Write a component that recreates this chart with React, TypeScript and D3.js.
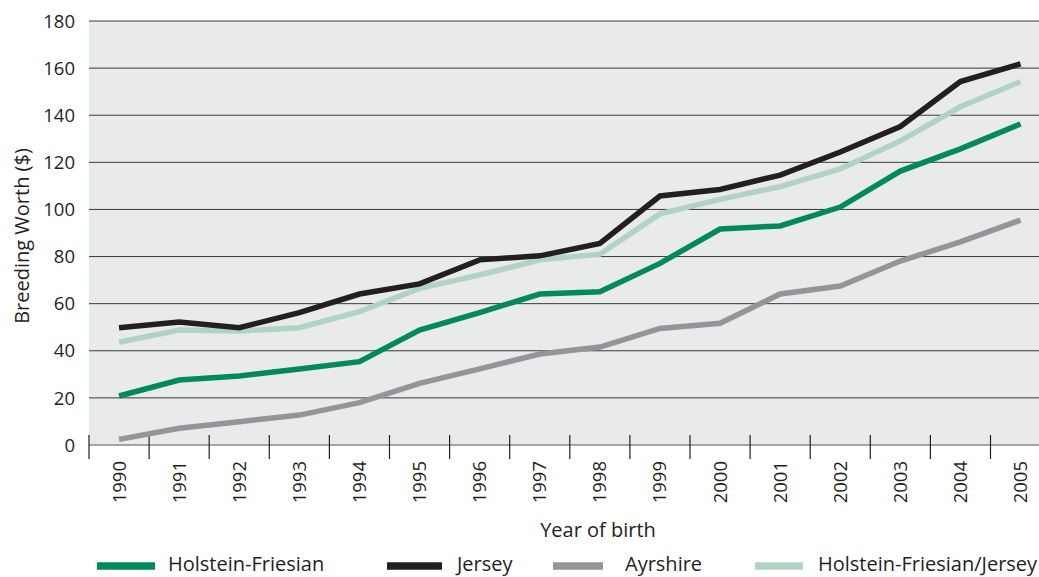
import React from "react";
import * as d3 from "d3";

const years = ["1990","1991","1992","1993","1994","1995","1996","1997","1998","1999","2000","2001","2002","2003","2004","2005"];
const holsteinFriesian = [20.8, 27.6, 29.3, 32.3, 35.4, 48.8, 56.2, 64.1, 65.1, 77.1, 91.7, 93.0, 101.0, 116.3, 125.7, 136.3];
const jersey = [49.8, 52.2, 49.8, 56.2, 64.1, 68.4, 78.6, 80.3, 85.6, 105.7, 108.5, 114.6, 124.4, 135.2, 154.3, 161.8];
const ayrshire = [2.4, 7.1, 9.9, 12.7, 18.0, 26.2, 32.3, 38.6, 41.6, 49.5, 51.7, 64.1, 67.5, 78.1, 86.2, 95.5];
const hfJersey = [43.6, 48.8, 48.4, 49.8, 56.6, 66.5, 72.2, 78.6, 81.0, 98.1, 104.3, 109.7, 117.2, 129.1, 143.6, 154.3];
const yTicks = [0, 20, 40, 60, 80, 100, 120, 140, 160, 180];

const seriesList = [
  { name: "Holstein-Friesian", values: holsteinFriesian, color: "#008a5c" },
  { name: "Jersey", values: jersey, color: "#231f20" },
  { name: "Ayrshire", values: ayrshire, color: "#949599" },
  { name: "Holstein-Friesian/Jersey", values: hfJersey, color: "#b1d3c3" },
];
const drawOrder = [2, 0, 3, 1];

const W = 1039, H = 577;
const left = 89, right = 1050.6, top = 21, bottom = 445;
const font = "'Open Sans', sans-serif";

export default function App() {
  const x = d3.scaleBand().domain(years).range([left, right]).paddingInner(0).paddingOuter(0);
  const y = d3.scaleLinear().domain([0, 180]).range([bottom, top]);
  const cx = (d: string) => (x(d) as number) + x.bandwidth() / 2;
  const line = (vals: number[]) =>
    d3.line<number>().x((_, i) => cx(years[i])).y((v) => y(v))(vals) as string;
  const boundaries = years.map((d) => x(d) as number);

  const legendItems = [
    { lx: 97, lw: 58, tx: 168 },
    { lx: 387, lw: 55, tx: 457 },
    { lx: 553, lw: 50, tx: 625 },
    { lx: 755, lw: 48, tx: 818 },
  ];

  return (
    <svg width={W} height={H} style={{ position: "absolute", left: 0, top: 0 }} fontFamily={font}>
      <rect x={left} y={top} width={right - left} height={bottom - top} fill="#e9eaea" />
      {yTicks.filter((t) => t > 0).map((t) => (
        <line key={t} x1={left} x2={W} y1={y(t)} y2={y(t)} stroke="#3a3a3a" strokeWidth={1} />
      ))}
      {yTicks.map((t) => (
        <text key={"l" + t} x={75} y={y(t)} dy="0.36em" textAnchor="end" fontSize={18.5} fill="#231f20">{t}</text>
      ))}
      <line x1={left} x2={W} y1={y(0)} y2={y(0)} stroke="#8a8a8a" strokeWidth={1.5} />
      {boundaries.map((b, i) => (
        <line key={"t" + i} x1={b} x2={b} y1={435} y2={459} stroke="#231f20" strokeWidth={1.2} />
      ))}
      {years.map((d) => (
        <text key={"x" + d} transform={`translate(${cx(d) + 6.5},${461}) rotate(-90)`} textAnchor="end" fontSize={18.5} fill="#231f20">{d}</text>
      ))}
      {drawOrder.map((i) => (
        <path key={seriesList[i].name} d={line(seriesList[i].values)} fill="none" stroke={seriesList[i].color} strokeWidth={5.5} strokeLinejoin="miter" />
      ))}
      <text transform={`translate(29,236) rotate(-90)`} textAnchor="middle" fontSize={20} fill="#231f20">Breeding Worth ($)</text>
      <text x={598} y={537} textAnchor="middle" fontSize={20} fill="#231f20">Year of birth</text>
      {seriesList.map((s, i) => (
        <g key={"lg" + i}>
          <line x1={legendItems[i].lx} x2={legendItems[i].lx + legendItems[i].lw} y1={566} y2={566} stroke={s.color} strokeWidth={7.5} />
          <text x={legendItems[i].tx} y={571} fontSize={20} fill="#231f20">{s.name}</text>
        </g>
      ))}
    </svg>
  );
}
